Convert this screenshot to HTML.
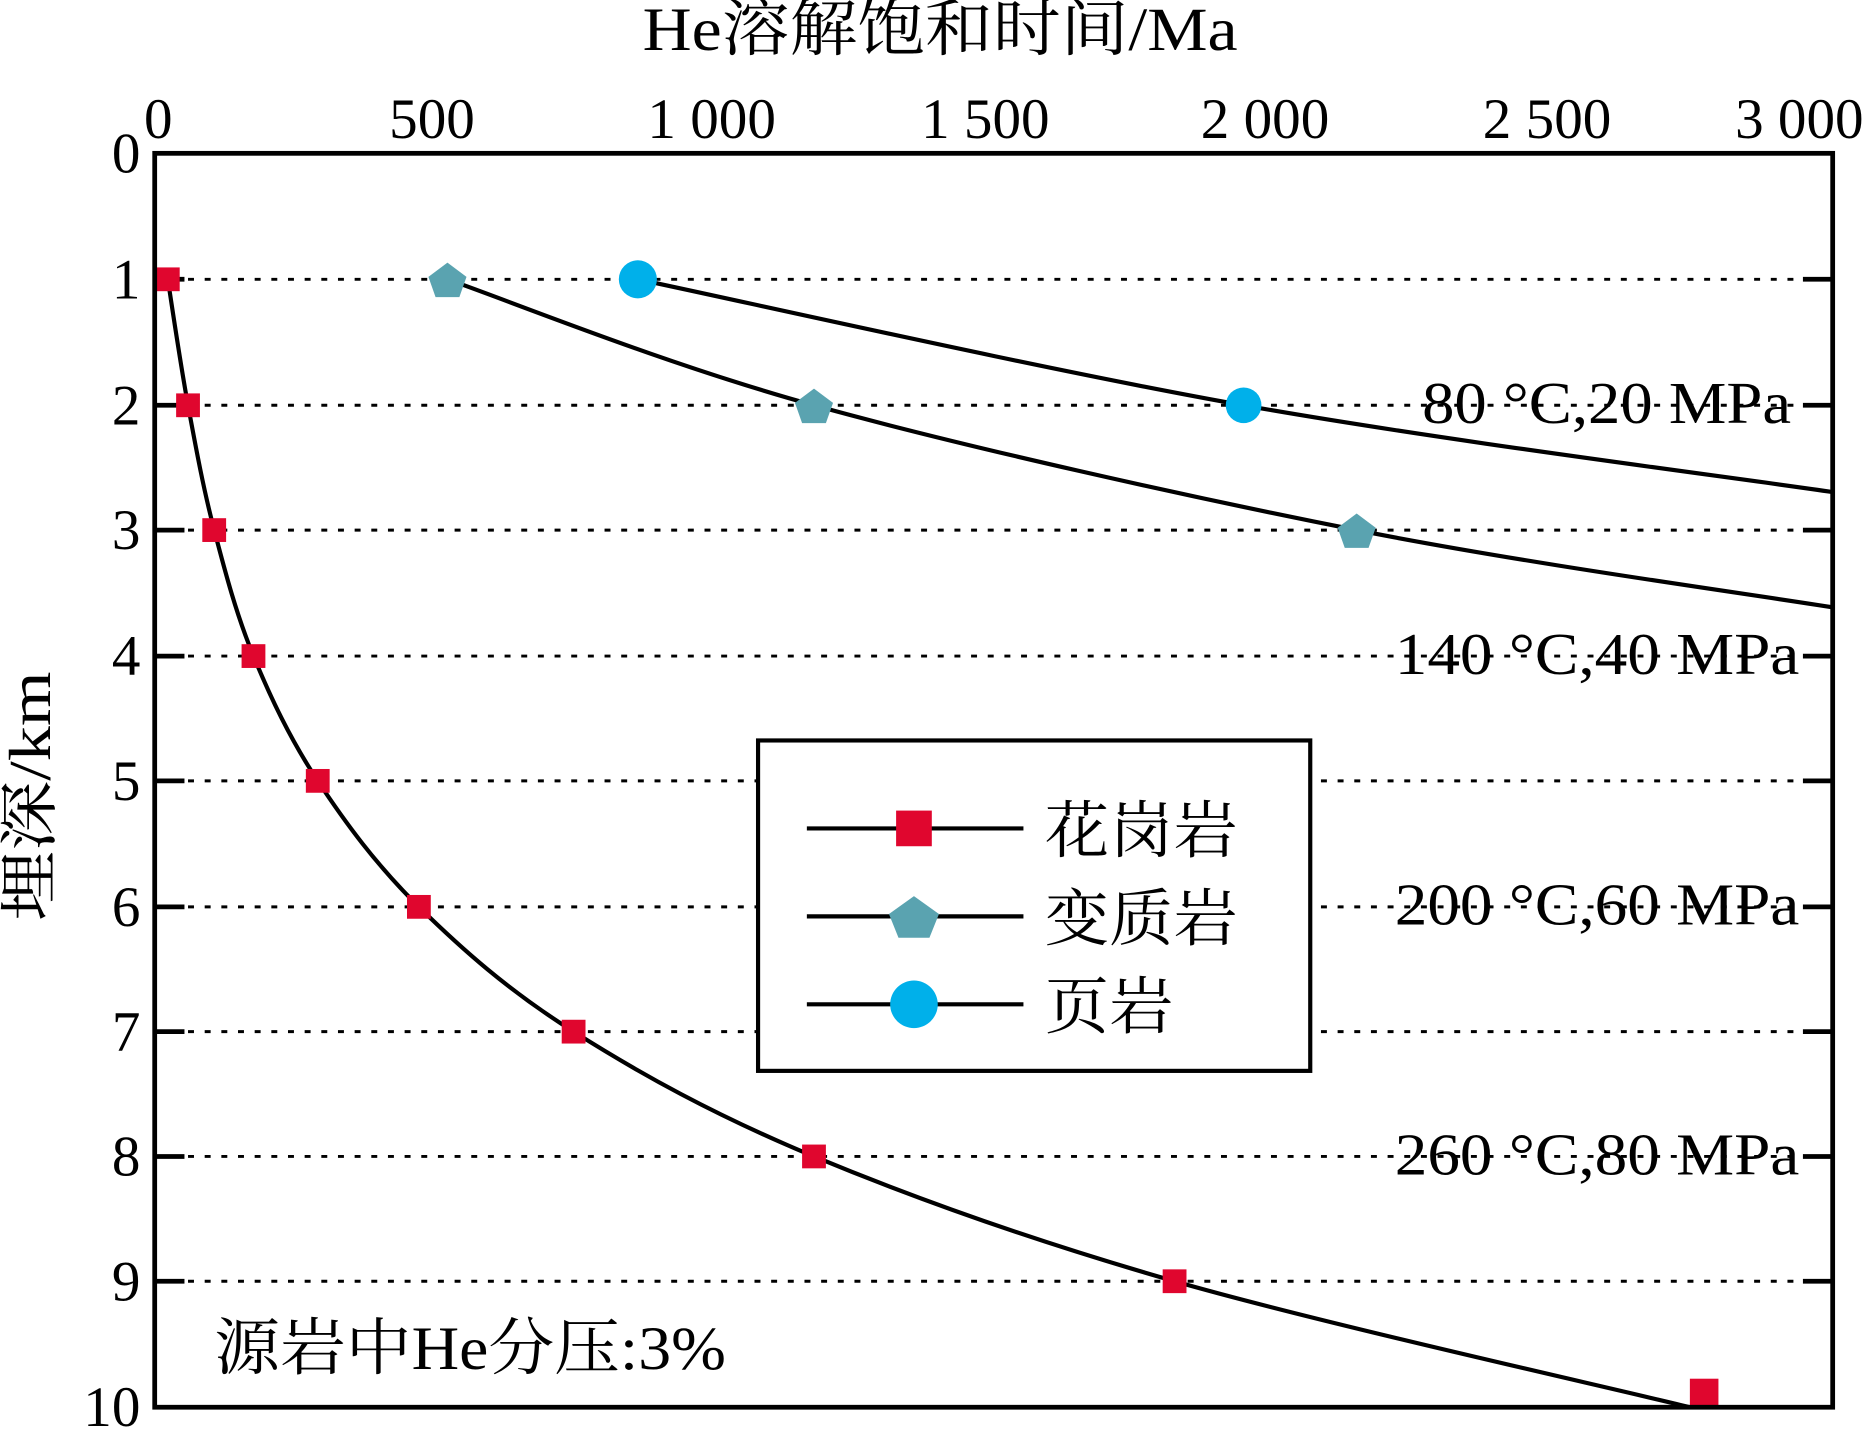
<!DOCTYPE html>
<html><head><meta charset="utf-8"><style>html,body{margin:0;padding:0;background:#fff}svg{display:block}</style></head>
<body>
<svg width="1866" height="1431" viewBox="0 0 1568 1204" preserveAspectRatio="none" xmlns="http://www.w3.org/2000/svg" font-family="'Liberation Serif','Noto Serif CJK SC',serif">
<rect width="1568" height="1204" fill="#fff"/>
<g stroke="#000" stroke-width="2.5" stroke-dasharray="5,9">
<line x1="130" y1="235" x2="1515" y2="235"/><line x1="130" y1="341" x2="1515" y2="341"/>
<line x1="130" y1="446" x2="1515" y2="446"/><line x1="130" y1="552" x2="1515" y2="552"/>
<line x1="130" y1="657" x2="1515" y2="657"/><line x1="130" y1="763" x2="1515" y2="763"/>
<line x1="130" y1="868" x2="1515" y2="868"/><line x1="130" y1="973" x2="1515" y2="973"/>
<line x1="130" y1="1078" x2="1515" y2="1078"/>
</g>
<g stroke="#000" stroke-width="4">
<path d="M130 235h25M130 341h25M130 446h25M130 552h25M130 657h25M130 763h25M130 868h25M130 973h25M130 1078h25"/>
<path d="M1540 235h-25M1540 341h-25M1540 446h-25M1540 552h-25M1540 657h-25M1540 763h-25M1540 868h-25M1540 973h-25M1540 1078h-25"/>
</g>
<g font-size="50" fill="#000">
<text x="1195" y="356" textLength="310" lengthAdjust="spacingAndGlyphs">80 °C,20 MPa</text>
<text x="1172" y="567" textLength="340" lengthAdjust="spacingAndGlyphs">140 °C,40 MPa</text>
<text x="1172" y="778" textLength="340" lengthAdjust="spacingAndGlyphs">200 °C,60 MPa</text>
<text x="1172" y="988" textLength="340" lengthAdjust="spacingAndGlyphs">260 °C,80 MPa</text>
</g>
<g fill="none" stroke="#000" stroke-width="3.5">
<path d="M141 235 C143.8 252.7,151.5 305.8,158 341 C164.5 376.2,170.8 410.8,180 446 C189.2 481.2,198.5 516.8,213 552 C227.5 587.2,243.8 621.8,267 657 C290.2 692.2,316.2 727.8,352 763 C387.8 798.2,426.7 833,482 868 C537.3 903,599.8 938,684 973 C768.2 1008,864.3 1042.8,987 1078 C1109.7 1113.2,1347.8 1166.3,1420 1184"/>
<path d="M376 235 C427.3 252.7,556.7 305.8,684 341 C811.3 376.2,997.3 417.7,1140 446 C1282.7 474.3,1473.3 500.2,1540 511"/>
<path d="M536 235 C620.8 252.7,877.7 311.2,1045 341 C1212.3 370.8,1457.5 401.8,1540 414"/>
</g>
<g fill="#e0062e">
<rect x="131" y="225" width="20" height="20"/><rect x="148" y="331" width="20" height="20"/>
<rect x="170" y="436" width="20" height="20"/><rect x="203" y="542" width="20" height="20"/>
<rect x="257" y="647" width="20" height="20"/><rect x="342" y="753" width="20" height="20"/>
<rect x="472" y="858" width="20" height="20"/><rect x="674" y="963" width="20" height="20"/>
<rect x="977" y="1068" width="20" height="20"/><rect x="1420" y="1160" width="24" height="24"/>
</g>
<g fill="#5aa3b0">
<polygon points="376,221 392,233 386,250 366,250 360,233"/>
<polygon points="684,327 700,339 694,356 674,356 668,339"/>
<polygon points="1140,432 1156,444 1150,461 1130,461 1124,444"/>
</g>
<g fill="#00b0ea"><circle cx="536" cy="235" r="16"/><circle cx="1045" cy="341" r="15"/></g>
<rect x="130" y="129" width="1410" height="1055" fill="none" stroke="#000" stroke-width="4"/>
<rect x="637" y="623" width="464" height="278" fill="#fff" stroke="#000" stroke-width="3.5"/>
<g stroke="#000" stroke-width="3.5"><path d="M678 697h182M678 771h182M678 845h182"/></g>
<rect x="753" y="682" width="30" height="30" fill="#e0062e"/>
<polygon points="768,754 789,769 781,789 755,789 747,769" fill="#5aa3b0"/>
<circle cx="768" cy="845" r="20" fill="#00b0ea"/>
<g font-size="52" fill="#000">
<text x="878" y="717" textLength="162" lengthAdjust="spacingAndGlyphs">花岗岩</text>
<text x="878" y="791" textLength="162" lengthAdjust="spacingAndGlyphs">变质岩</text>
<text x="878" y="865" textLength="108" lengthAdjust="spacingAndGlyphs">页岩</text>
<text x="180" y="1152" textLength="430" lengthAdjust="spacingAndGlyphs">源岩中He分压:3%</text>
<text x="540" y="42" textLength="500" lengthAdjust="spacingAndGlyphs">He溶解饱和时间/Ma</text>
</g>
<g font-size="48" fill="#000" text-anchor="middle">
<text x="133" y="116">0</text><text x="363" y="116">500</text><text x="598" y="116">1 000</text>
<text x="828" y="116">1 500</text><text x="1063" y="116">2 000</text><text x="1300" y="116">2 500</text><text x="1512" y="116">3 000</text>
</g>
<g font-size="48" fill="#000" text-anchor="end">
<text x="118" y="145">0</text><text x="118" y="251">1</text><text x="118" y="357">2</text><text x="118" y="462">3</text>
<text x="118" y="568">4</text><text x="118" y="673">5</text><text x="118" y="779">6</text><text x="118" y="884">7</text>
<text x="118" y="989">8</text><text x="118" y="1094">9</text><text x="118" y="1200">10</text>
</g>
<text transform="translate(42,775) rotate(-90)" font-size="50" fill="#000" textLength="210" lengthAdjust="spacingAndGlyphs">埋深/km</text>
</svg>
</body></html>
